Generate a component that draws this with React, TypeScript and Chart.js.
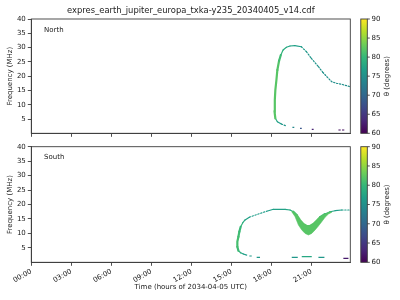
import React, { useEffect, useRef } from "react";
import { Chart, registerables } from "chart.js";

Chart.register(...registerables);

// ---------------- text ----------------
const TITLE = "expres_earth_jupiter_europa_txka-y235_20340405_v14.cdf";
const X_LABEL = "Time (hours of 2034-04-05 UTC)";
const Y_LABEL = "Frequency (MHz)";
const CB_LABEL = "θ (degrees)";
const PANEL_LABELS = ["North", "South"];

// ---------------- axes ----------------
const X_TICK_HOURS = [0, 3, 6, 9, 12, 15, 18, 21];
const X_MIN = 0;
const X_MAX = 23.92;
const Y_TICKS = [5, 10, 15, 20, 25, 30, 35, 40];
const Y_MIN = 0;
const Y_MAX = 40;
const CB_TICKS = [60, 65, 70, 75, 80, 85, 90];
const THETA_MIN = 60;
const THETA_MAX = 90;
const VIRIDIS_STOPS = ["#440154", "#482878", "#3e4989", "#31688e", "#26828e", "#1f9e89", "#35b779", "#6ece58", "#b5de2b", "#fde725"];

// ---------------- North hemisphere ----------------
// main arc: from the low end of the vertical branch up over the peak to the right edge
const northArcTime = [18.30, 18.24, 18.26, 18.30, 18.38, 18.45, 18.58, 18.71, 18.88, 19.13, 19.40, 19.76, 20.25, 20.63, 21.00, 21.53, 21.86, 22.16, 22.53, 22.90, 23.28, 23.90];
const northArcFreq = [5.25, 7.56, 11.65, 15.15, 18.65, 22.15, 25.4, 27.4, 29.15, 30.1, 30.55, 30.7, 30.3, 28.55, 26.25, 23.3, 21.35, 19.8, 18.05, 17.5, 17.15, 16.3];
const northArcTheta = [82, 82, 82, 82, 82, 82, 81.5, 80, 79, 78, 77.5, 77, 76.5, 76, 75.5, 75.5, 75, 75, 75, 75, 75, 75];
// low-frequency tail leaving the bottom of the vertical branch
const northTailTime = [18.30, 18.45, 18.75, 19.13];
const northTailFreq = [5.25, 4.06, 3.25, 2.55];
const northTailTheta = [80, 77, 76, 75.5];
// short isolated pieces near the bottom
const northDashStart = [19.58, 20.15, 21.03, 23.03, 23.30];
const northDashEnd = [19.72, 20.28, 21.17, 23.20, 23.47];
const northDashFreq = [2.1, 1.7, 1.4, 1.15, 1.15];
const northDashTheta = [74, 68, 63, 61, 61];

// ---------------- South hemisphere ----------------
const southArcTime = [16.15, 15.90, 15.70, 15.53, 15.45, 15.45, 15.53, 15.60, 15.70, 15.86, 16.03, 16.35, 16.65, 17.03, 17.40, 17.78, 18.15, 19.03, 19.40, 19.65, 19.90, 20.15, 20.40, 20.65, 20.90, 21.15, 21.40, 21.65, 22.03, 22.40, 22.78, 23.28, 23.90];
const southArcFreq = [2.5, 2.87, 3.3, 4.0, 5.4, 7.13, 8.86, 10.6, 12.3, 13.7, 14.65, 15.6, 16.1, 16.7, 17.3, 17.85, 18.34, 18.34, 18.1, 17.5, 16.35, 14.6, 13.25, 12.56, 12.56, 13.25, 14.4, 15.6, 16.7, 17.5, 17.85, 18.1, 18.1];
const southArcTheta = [76, 77, 78, 80, 81, 81, 81, 80.5, 80, 79, 78, 76.5, 76.5, 76.5, 76.5, 76.5, 77, 77, 78, 80, 82, 82, 82, 82, 82, 82, 82, 82, 80, 78, 77, 76.5, 76.5];
// thick part of the dip: upper edge then lower edge back
const southBandTime = [19.53, 19.65, 19.90, 20.15, 20.40, 20.65, 20.90, 21.15, 21.40, 21.65, 22.03, 22.40, 22.53, 22.28, 22.03, 21.78, 21.53, 21.28, 21.03, 20.78, 20.53, 20.28, 20.03, 19.78, 19.53];
const southBandFreq = [17.5, 17.5, 16.35, 14.6, 13.25, 12.56, 12.56, 13.25, 14.4, 15.6, 16.7, 17.5, 17.3, 16.7, 15.6, 14.05, 12.56, 11.2, 10.0, 9.45, 10.0, 11.2, 12.9, 15.8, 17.5];
const southBandTheta = 82;
const southDashStart = [16.35, 16.90, 19.53, 20.28, 21.53, 23.40];
const southDashEnd = [16.53, 17.15, 19.98, 21.03, 21.98, 23.78];
const southDashFreq = [2.18, 1.73, 1.73, 1.94, 1.73, 1.38];
const southDashTheta = [76, 76, 76, 78, 76, 62];

// ---------------- styling ----------------
const FONT_FAMILY = "'DejaVu Sans', 'Liberation Sans', sans-serif";
const TEXT_COLOR = "#1a1a1a";
const AXIS_COLOR = "#3c3c3c";
const PLOT_LEFT = 31.3;
const PLOT_RIGHT = 350.3;
const WIDTH = 400;

function hexToRgb(h: string): number[] {
  return [1, 3, 5].map((i) => parseInt(h.slice(i, i + 2), 16));
}

function viridisT(t: number): string {
  const c = Math.min(1, Math.max(0, t));
  const pos = c * (VIRIDIS_STOPS.length - 1);
  const i = Math.min(VIRIDIS_STOPS.length - 2, Math.floor(pos));
  const f = pos - i;
  const a = hexToRgb(VIRIDIS_STOPS[i]);
  const b = hexToRgb(VIRIDIS_STOPS[i + 1]);
  const m = a.map((v, k) => Math.round(v + (b[k] - v) * f));
  return `rgb(${m[0]},${m[1]},${m[2]})`;
}

function viridis(theta: number): string {
  return viridisT((theta - THETA_MIN) / (THETA_MAX - THETA_MIN));
}

function pathDataset(times: number[], freqs: number[], thetas: number[]) {
  return {
    data: times.map((x, i) => ({ x, y: freqs[i] })),
    showLine: true,
    pointRadius: 0,
    borderWidth: 1.2,
    borderColor: viridis(thetas[0]),
    borderCapStyle: "round",
    segment: {
      borderColor: (c: any) => viridis((thetas[c.p0DataIndex] + thetas[c.p1DataIndex]) / 2),
      borderWidth: (c: any) => (thetas[c.p0DataIndex] >= 80 && thetas[c.p1DataIndex] >= 80 ? 2.2 : 1.2),
      borderDash: (c: any) => (thetas[c.p0DataIndex] <= 76.5 && thetas[c.p1DataIndex] <= 76.5 ? [1.3, 1.7] : undefined),
    },
  };
}

function dashDatasets(starts: number[], ends: number[], freqs: number[], thetas: number[]) {
  return starts.map((s, i) => ({
    data: [
      { x: s, y: freqs[i] },
      { x: ends[i], y: freqs[i] },
    ],
    showLine: true,
    pointRadius: 0,
    borderWidth: 1.2,
    borderColor: viridis(thetas[i]),
  }));
}

function bandDataset(times: number[], freqs: number[], theta: number) {
  return {
    data: times.map((x, i) => ({ x, y: freqs[i] })),
    showLine: true,
    pointRadius: 0,
    borderWidth: 0.6,
    borderColor: viridis(theta),
    backgroundColor: viridis(theta),
    fill: "shape",
  };
}

const decorPlugin = {
  id: "decor",
  afterDraw(chart: any, _args: any, opts: any) {
    const { ctx, chartArea: a } = chart;
    ctx.save();
    // frame
    ctx.strokeStyle = AXIS_COLOR;
    ctx.lineWidth = 0.9;
    ctx.strokeRect(a.left, a.top, a.right - a.left, a.bottom - a.top);
    // panel label
    ctx.fillStyle = TEXT_COLOR;
    ctx.font = `7px ${FONT_FAMILY}`;
    ctx.textAlign = "left";
    ctx.textBaseline = "middle";
    ctx.fillText(opts.label, a.left + 12.7, a.top + 10.8);
    // title
    if (opts.title) {
      ctx.font = `8.4px ${FONT_FAMILY}`;
      ctx.textAlign = "center";
      ctx.fillText(opts.title, (a.left + a.right) / 2, a.top - 8);
    }
    // colorbar
    const x0 = a.right + 10.5;
    const w = 6.5;
    const grad = ctx.createLinearGradient(0, a.bottom, 0, a.top);
    VIRIDIS_STOPS.forEach((c, i) => grad.addColorStop(i / (VIRIDIS_STOPS.length - 1), c));
    ctx.fillStyle = grad;
    ctx.fillRect(x0, a.top, w, a.bottom - a.top);
    ctx.strokeStyle = AXIS_COLOR;
    ctx.lineWidth = 0.9;
    ctx.strokeRect(x0, a.top, w, a.bottom - a.top);
    ctx.fillStyle = TEXT_COLOR;
    ctx.font = `7px ${FONT_FAMILY}`;
    ctx.textAlign = "left";
    ctx.textBaseline = "middle";
    CB_TICKS.forEach((v) => {
      const y = a.bottom - ((v - THETA_MIN) / (THETA_MAX - THETA_MIN)) * (a.bottom - a.top);
      ctx.beginPath();
      ctx.moveTo(x0 + w, y);
      ctx.lineTo(x0 + w + 2.5, y);
      ctx.stroke();
      ctx.fillText(String(v), x0 + w + 4.3, y);
    });
    ctx.translate(x0 + 26.5, (a.top + a.bottom) / 2);
    ctx.rotate(-Math.PI / 2);
    ctx.textAlign = "center";
    ctx.fillText(CB_LABEL, 0, 0);
    ctx.restore();
  },
};

type PanelProps = {
  canvasTop: number;
  canvasHeight: number;
  areaTop: number;
  areaBottom: number;
  label: string;
  title?: string;
  bottomAxis: boolean;
  datasets: any[];
};

function Panel(props: PanelProps) {
  const ref = useRef<HTMLCanvasElement | null>(null);
  useEffect(() => {
    if (!ref.current) return;
    const { canvasHeight, areaTop, areaBottom, bottomAxis } = props;
    const font = { family: FONT_FAMILY, size: 7 };
    const chart = new Chart(ref.current, {
      type: "scatter",
      data: { datasets: props.datasets },
      plugins: [decorPlugin],
      options: {
        animation: false,
        responsive: false,
        devicePixelRatio: 1,
        layout: { padding: { left: 0, top: areaTop, right: WIDTH - PLOT_RIGHT, bottom: 0 } },
        plugins: {
          legend: { display: false },
          tooltip: { enabled: false },
          decor: { label: props.label, title: props.title },
        } as any,
        scales: {
          x: {
            type: "linear",
            min: X_MIN,
            max: X_MAX,
            afterBuildTicks: (s: any) => {
              s.ticks = X_TICK_HOURS.map((v) => ({ value: v }));
            },
            afterFit: (s: any) => {
              s.height = canvasHeight - areaBottom;
            },
            ticks: {
              font,
              color: TEXT_COLOR,
              padding: 1.5,
              minRotation: bottomAxis ? 30 : 0,
              maxRotation: bottomAxis ? 30 : 0,
              autoSkip: false,
              callback: (v: any) => (bottomAxis ? `${String(v).padStart(2, "0")}:00` : ""),
            },
            grid: { drawOnChartArea: false, drawTicks: true, tickLength: 3.5, color: AXIS_COLOR, lineWidth: 0.9 },
            border: { display: true, color: AXIS_COLOR, width: 0.9 },
            title: {
              display: bottomAxis,
              text: X_LABEL,
              font,
              color: TEXT_COLOR,
              padding: { top: 0, bottom: 9.1 },
            },
          },
          y: {
            type: "linear",
            min: Y_MIN,
            max: Y_MAX,
            afterBuildTicks: (s: any) => {
              s.ticks = Y_TICKS.map((v) => ({ value: v }));
            },
            afterFit: (s: any) => {
              s.width = PLOT_LEFT;
            },
            ticks: { font, color: TEXT_COLOR, padding: 2 },
            grid: { drawOnChartArea: false, drawTicks: true, tickLength: 3.5, color: AXIS_COLOR, lineWidth: 0.9 },
            border: { display: true, color: AXIS_COLOR, width: 0.9 },
            title: {
              display: true,
              text: Y_LABEL,
              font,
              color: TEXT_COLOR,
              padding: { top: 6.1, bottom: 0 },
            },
          },
        },
      },
    } as any);
    return () => chart.destroy();
  }, []);
  return (
    <canvas
      ref={ref}
      width={WIDTH}
      height={props.canvasHeight}
      style={{ position: "absolute", left: 0, top: props.canvasTop, width: WIDTH, height: props.canvasHeight, display: "block" }}
    />
  );
}

export default function App() {
  const northSets = [
    pathDataset(northArcTime, northArcFreq, northArcTheta),
    pathDataset(northTailTime, northTailFreq, northTailTheta),
    ...dashDatasets(northDashStart, northDashEnd, northDashFreq, northDashTheta),
  ];
  const southSets = [
    bandDataset(southBandTime, southBandFreq, southBandTheta),
    pathDataset(southArcTime, southArcFreq, southArcTheta),
    ...dashDatasets(southDashStart, southDashEnd, southDashFreq, southDashTheta),
  ];
  return (
    <div style={{ position: "absolute", left: 0, top: 0, width: 400, height: 300, background: "#fff", overflow: "hidden" }}>
      <Panel canvasTop={0} canvasHeight={140} areaTop={19} areaBottom={133.3} label={PANEL_LABELS[0]} title={TITLE} bottomAxis={false} datasets={northSets} />
      <Panel canvasTop={140} canvasHeight={160} areaTop={6.7} areaBottom={122.3} label={PANEL_LABELS[1]} bottomAxis={true} datasets={southSets} />
    </div>
  );
}
